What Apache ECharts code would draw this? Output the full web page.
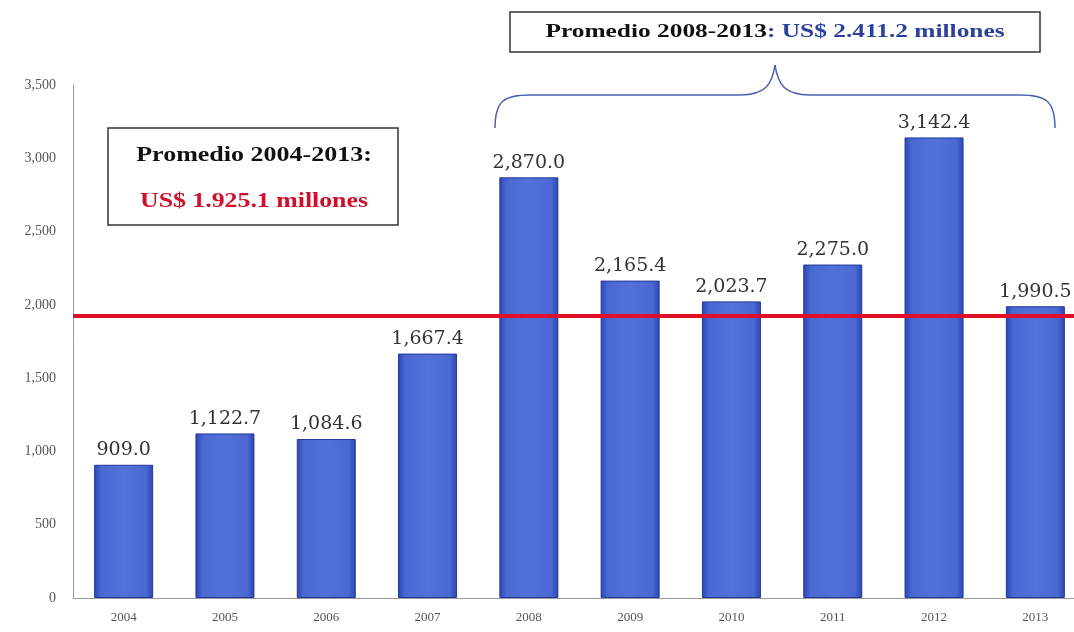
<!DOCTYPE html>
<html>
<head>
<meta charset="utf-8">
<script src="https://cdn.jsdelivr.net/npm/echarts@6/dist/echarts.min.js"></script>
<style>html,body{margin:0;padding:0;background:#fff}#c{width:1074px;height:632px}</style>
</head>
<body>
<div id="c"></div>
<script>
var years = ['2004','2005','2006','2007','2008','2009','2010','2011','2012','2013'];
var values = [909.0, 1122.7, 1084.6, 1667.4, 2870.0, 2165.4, 2023.7, 2275.0, 3142.4, 1990.5];
var avgAll = 1925.1;
var yTicks = {min: 0, max: 3500, interval: 500};
var boxTop = ['Promedio 2008-2013', ': US$ 2.411.2 millones'];
var boxLeft = ['Promedio 2004-2013:', 'US$ 1.925.1 millones'];

function fmt(v){
  var s = v.toFixed(1).split('.');
  return s[0].replace(/\B(?=(\d{3})+(?!\d))/g, ',') + '.' + s[1];
}
var serif = '"Liberation Serif", "DejaVu Serif", serif';
var braceStyle = {fill: 'none', stroke: '#4a5fb0', lineWidth: 1.5};
var chart = echarts.init(document.getElementById('c'));
chart.setOption({
  animation: false,
  backgroundColor: '#fff',
  grid: {left: 73, right: -12, top: 85, bottom: 34, outerBoundsMode: 'none', containLabel: false},
  xAxis: {
    type: 'category', data: years,
    axisLine: {lineStyle: {color: '#9a9a9a'}},
    axisTick: {show: false},
    axisLabel: {color: '#555', fontFamily: serif, fontSize: 13, margin: 13}
  },
  yAxis: {
    type: 'value', min: yTicks.min, max: yTicks.max, interval: yTicks.interval,
    axisLine: {show: true, lineStyle: {color: '#9a9a9a'}},
    axisTick: {show: false},
    splitLine: {show: false},
    axisLabel: {color: '#555', fontFamily: serif, fontSize: 14, margin: 17,
      formatter: function(v){ return v.toLocaleString('en-US'); }}
  },
  series: [{
    type: 'bar', data: values, barWidth: 59,
    itemStyle: {
      color: new echarts.graphic.LinearGradient(0,0,1,0,[
        {offset:0,color:'#2c45b0'},{offset:0.12,color:'#4a68d2'},
        {offset:0.5,color:'#5272d8'},{offset:0.88,color:'#4a68d2'},{offset:1,color:'#2c45b0'}]),
      borderColor: '#22389a', borderWidth: 1
    },
    label: {show: true, position: 'top', distance: 5, color: '#333', fontFamily: '"DejaVu Serif", serif', fontSize: 19,
      formatter: function(p){ return fmt(p.value); }},
    markLine: {
      silent: true, symbol: 'none',
      lineStyle: {color: '#e0102a', width: 4, type: 'solid'},
      label: {show: false},
      data: [{yAxis: avgAll}]
    }
  }],
  graphic: [
    {type: 'rect', shape: {x: 510, y: 12, width: 530, height: 40},
      style: {fill: '#fff', stroke: '#333', lineWidth: 1.5}},
    {type: 'text', x: 775, y: 32, scaleX: 1.41, style: {
      text: '{a|' + boxTop[0] + '}{b|' + boxTop[1] + '}',
      align: 'center', verticalAlign: 'middle',
      rich: {
        a: {fontFamily: serif, fontWeight: 'bold', fontSize: 18, fill: '#111'},
        b: {fontFamily: serif, fontWeight: 'bold', fontSize: 18, fill: '#2a3f9e'}
      }}},
    {type: 'bezierCurve', shape: {x1: 495, y1: 128, cpx1: 495, cpy1: 100, cpx2: 505, cpy2: 95, x2: 530, y2: 95}, style: braceStyle},
    {type: 'line', shape: {x1: 530, y1: 95, x2: 740, y2: 95}, style: braceStyle},
    {type: 'bezierCurve', shape: {x1: 740, y1: 95, cpx1: 765, cpy1: 95, cpx2: 772, cpy2: 85, x2: 775, y2: 65}, style: braceStyle},
    {type: 'bezierCurve', shape: {x1: 775, y1: 65, cpx1: 778, cpy1: 85, cpx2: 785, cpy2: 95, x2: 810, y2: 95}, style: braceStyle},
    {type: 'line', shape: {x1: 810, y1: 95, x2: 1020, y2: 95}, style: braceStyle},
    {type: 'bezierCurve', shape: {x1: 1020, y1: 95, cpx1: 1045, cpy1: 95, cpx2: 1055, cpy2: 100, x2: 1055, y2: 128}, style: braceStyle},
    {type: 'rect', shape: {x: 108, y: 128, width: 290, height: 97},
      style: {fill: '#fff', stroke: '#333', lineWidth: 1.5}},
    {type: 'text', x: 254, y: 156, scaleX: 1.3, style: {text: boxLeft[0], align: 'center', verticalAlign: 'middle',
      fontFamily: serif, fontWeight: 'bold', fontSize: 20, fill: '#111'}},
    {type: 'text', x: 254, y: 202, scaleX: 1.29, style: {text: boxLeft[1], align: 'center', verticalAlign: 'middle',
      fontFamily: serif, fontWeight: 'bold', fontSize: 20, fill: '#d0102a'}}
  ]
});
</script>
</body>
</html>
